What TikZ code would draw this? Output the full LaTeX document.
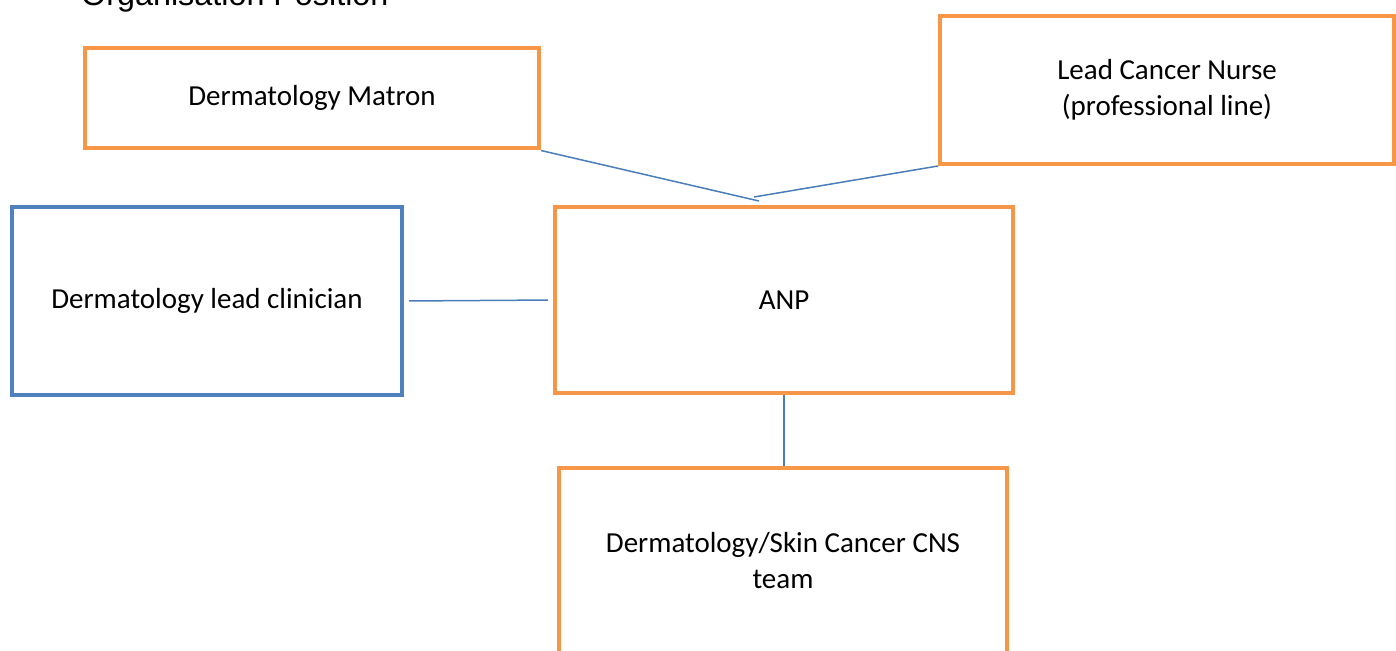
\documentclass[tikz,border=0pt]{standalone}
\usepackage{fontspec}
\setmainfont{Carlito}
\newfontfamily\titlefont{Liberation Sans}
\definecolor{boxorange}{HTML}{F79646}
\definecolor{boxblue}{HTML}{4F81BD}
\definecolor{linkblue}{HTML}{4A7EBB}
\begin{document}
\begin{tikzpicture}[x=0.02cm,y=-0.02cm, every node/.style={font=\fontsize{16.5}{20.5}\selectfont},
  post/.style={draw=boxorange,line width=0.08cm,align=center,inner sep=0pt},
  clin/.style={post,draw=boxblue},
  link/.style={draw=linkblue,line width=0.03cm}]
\clip (0,0) rectangle (1396,650);
\node[anchor=base west,font=\titlefont\fontsize{18.4}{22}\selectfont] (title) at (75,5) {Organisation Position};
\node[post,minimum width=9.08cm,minimum height=2.02cm] (matron) at (312,98) {Dermatology Matron};
\node[post,minimum width=9.08cm,minimum height=2.96cm] (nurse) at (1167,90) {Lead Cancer Nurse\\(professional line)};
\node[post,minimum width=9.16cm,minimum height=3.72cm] (anp) at (784,300) {ANP};
\node[clin,minimum width=7.81cm,minimum height=3.76cm] (lead) at (207,301) {Dermatology lead clinician};
\node[post,minimum width=8.96cm,minimum height=3.72cm] (cns) at (783,561) {Dermatology/Skin Cancer CNS\\team};
% reporting lines
\coordinate (mtop) at (759,201);
\coordinate (ntop) at (754,197);
\draw[link] (matron.south east) -- (mtop);
\draw[link] (nurse.south west) -- (ntop);
\draw[link,shorten <=0.1cm,shorten >=0.1cm] (lead.east) -- (anp.west);
\draw[link] (anp.south) -- (anp.south |- cns.north);
\end{tikzpicture}
\end{document}
